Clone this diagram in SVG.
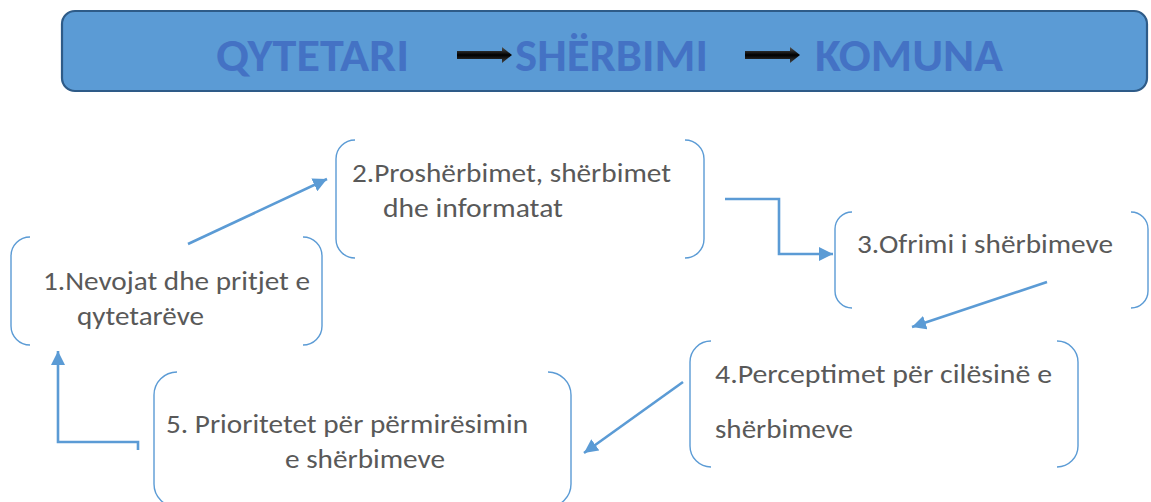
<svg xmlns="http://www.w3.org/2000/svg" width="1151" height="502" viewBox="0 0 1151 502">
<style>
.title{font-family:Carlito,"Liberation Sans",Arial,sans-serif;font-weight:bold;font-size:46px;fill:#4472c4}
.lbl{font-family:Carlito,"Liberation Sans",Arial,sans-serif;font-size:26px;fill:#595959}
.br{fill:none;stroke:#5b9bd5;stroke-width:1.4}
.conn{fill:none;stroke:#5b9bd5;stroke-width:2.6}
</style>
<defs>
<marker id="ah" markerUnits="userSpaceOnUse" markerWidth="16" markerHeight="14" refX="14" refY="7" orient="auto">
<path d="M0,0 L14,7 L0,14 Z" fill="#5b9bd5"/>
</marker>
<linearGradient id="blk" x1="0" y1="0" x2="0" y2="1">
<stop offset="0" stop-color="#555"/>
<stop offset="0.5" stop-color="#000"/>
<stop offset="1" stop-color="#444"/>
</linearGradient>
</defs>
<g id="title">
<rect x="62" y="11" width="1085" height="80" rx="13" ry="13" fill="#5b9bd5" stroke="#2e5b88" stroke-width="2.2"/>
<text class="title" x="216" y="71" textLength="193" lengthAdjust="spacingAndGlyphs">QYTETARI</text>
<polygon points="457,51 502,51 502,47 512,55 502,63 502,59 457,59" fill="url(#blk)"/>
<text class="title" x="515" y="71" textLength="193" lengthAdjust="spacingAndGlyphs">SHËRBIMI</text>
<polygon points="745,51 790,51 790,47 800,55 790,63 790,59 745,59" fill="url(#blk)"/>
<text class="title" x="815" y="71" textLength="188" lengthAdjust="spacingAndGlyphs">KOMUNA</text>
</g>
<g id="node1">
<path class="br" d="M30,237 A19,19 0 0 0 11,256 V326 A19,19 0 0 0 30,345"/>
<path class="br" d="M303,237 A19,19 0 0 1 322,256 V326 A19,19 0 0 1 303,345"/>
<text class="lbl" x="43" y="290" textLength="267" lengthAdjust="spacingAndGlyphs">1.Nevojat dhe pritjet e</text>
<text class="lbl" x="77" y="325" textLength="127" lengthAdjust="spacingAndGlyphs">qytetarëve</text>
</g>
<g id="node2">
<path class="br" d="M355,140 A19,19 0 0 0 336,159 V239 A19,19 0 0 0 355,258"/>
<path class="br" d="M685,140 A19,19 0 0 1 704,159 V239 A19,19 0 0 1 685,258"/>
<text class="lbl" x="352" y="182" textLength="319" lengthAdjust="spacingAndGlyphs">2.Proshërbimet, shërbimet</text>
<text class="lbl" x="383" y="217" textLength="180" lengthAdjust="spacingAndGlyphs">dhe informatat</text>
</g>
<g id="node3">
<path class="br" d="M852,212 A17,17 0 0 0 835,229 V291 A17,17 0 0 0 852,308"/>
<path class="br" d="M1131,212 A17,17 0 0 1 1148,229 V291 A17,17 0 0 1 1131,308"/>
<text class="lbl" x="857" y="253" textLength="256" lengthAdjust="spacingAndGlyphs">3.Ofrimi i shërbimeve</text>
</g>
<g id="node4">
<path class="br" d="M711,341 A21,21 0 0 0 690,362 V446 A21,21 0 0 0 711,467"/>
<path class="br" d="M1057,341 A21,21 0 0 1 1078,362 V446 A21,21 0 0 1 1057,467"/>
<text class="lbl" x="715" y="383" textLength="337" lengthAdjust="spacingAndGlyphs">4.Perceptimet për cilësinë e</text>
<text class="lbl" x="715" y="438" textLength="138" lengthAdjust="spacingAndGlyphs">shërbimeve</text>
</g>
<g id="node5">
<path class="br" d="M177,372 A23,23 0 0 0 154,395 V484 A23,23 0 0 0 177,507"/>
<path class="br" d="M548,372 A23,23 0 0 1 571,395 V484 A23,23 0 0 1 548,507"/>
<text class="lbl" x="166" y="433" textLength="362" lengthAdjust="spacingAndGlyphs">5. Prioritetet për përmirësimin</text>
<text class="lbl" x="285" y="468" textLength="160" lengthAdjust="spacingAndGlyphs">e shërbimeve</text>
</g>
<g id="connectors">
<path class="conn" d="M188,244 L327,179" marker-end="url(#ah)"/>
<path class="conn" d="M725,199 H779 V254 H833" marker-end="url(#ah)"/>
<path class="conn" d="M1047,282 L912,327" marker-end="url(#ah)"/>
<path class="conn" d="M683,382 L584,453" marker-end="url(#ah)"/>
<path class="conn" d="M138,450 V442 H58 V351" marker-end="url(#ah)"/>
</g>
</svg>
